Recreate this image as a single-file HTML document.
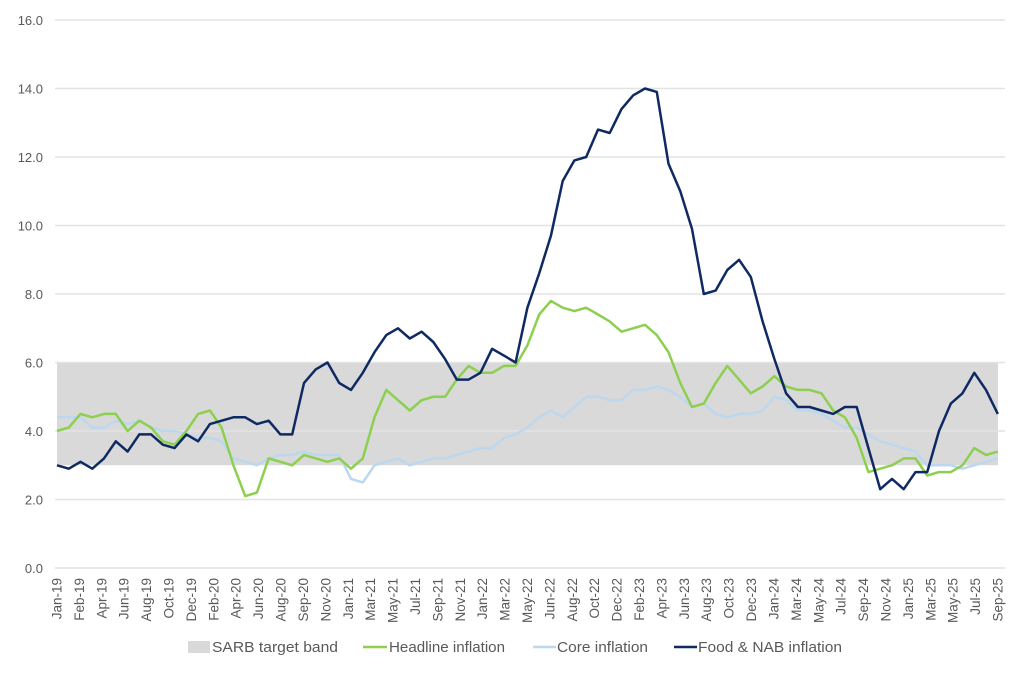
<!DOCTYPE html>
<html><head><meta charset="utf-8"><style>
html,body{margin:0;padding:0;background:#fff;}
svg text{font-family:"Liberation Sans",sans-serif;fill:#595959;}
</style></head><body>
<svg id="s" width="1024" height="675" xmlns="http://www.w3.org/2000/svg"></svg>
<script>
const s=document.getElementById('s');
const X0=57,STEP=11.76,Y0=568,PU=34.25;
const y=v=>Y0-v*PU, x=i=>X0+i*STEP;
let h='';
h+=`<rect x="57" y="${y(6)}" width="941" height="${3*PU}" fill="#d9d9d9"/>`;
for(let v=0;v<=16;v+=2){h+=`<line x1="55" x2="1005" y1="${y(v)}" y2="${y(v)}" stroke="#e3e3e3" stroke-width="1.5"/>`;
h+=`<text x="43" y="${y(v)+5}" font-size="13" text-anchor="end">${v.toFixed(1)}</text>`;}
const labs="Jan-19 Feb-19 Apr-19 Jun-19 Aug-19 Oct-19 Dec-19 Feb-20 Apr-20 Jun-20 Aug-20 Sep-20 Nov-20 Jan-21 Mar-21 May-21 Jul-21 Sep-21 Nov-21 Jan-22 Mar-22 May-22 Jun-22 Aug-22 Oct-22 Dec-22 Feb-23 Apr-23 Jun-23 Aug-23 Oct-23 Dec-23 Jan-24 Mar-24 May-24 Jul-24 Sep-24 Nov-24 Jan-25 Mar-25 May-25 Jul-25 Sep-25".split(' ');
labs.forEach((l,i)=>{const lx=57+i*(941/42)+4.5;h+=`<text transform="translate(${lx},578) rotate(-90)" font-size="13.5" text-anchor="end">${l}</text>`;});
const core=[4.4,4.4,4.4,4.1,4.1,4.3,4.2,4.3,4.1,4.0,4.0,3.9,3.8,3.8,3.7,3.2,3.1,3.0,3.2,3.3,3.3,3.4,3.3,3.3,3.3,2.6,2.5,3.0,3.1,3.2,3.0,3.1,3.2,3.2,3.3,3.4,3.5,3.5,3.8,3.9,4.1,4.4,4.6,4.4,4.7,5.0,5.0,4.9,4.9,5.2,5.2,5.3,5.2,5.0,4.7,4.8,4.5,4.4,4.5,4.5,4.6,5.0,4.9,4.6,4.6,4.5,4.3,4.1,4.1,3.9,3.7,3.6,3.5,3.4,3.0,3.0,3.0,2.9,3.0,3.1,3.2];
const head=[4.0,4.1,4.5,4.4,4.5,4.5,4.0,4.3,4.1,3.7,3.6,4.0,4.5,4.6,4.1,3.0,2.1,2.2,3.2,3.1,3.0,3.3,3.2,3.1,3.2,2.9,3.2,4.4,5.2,4.9,4.6,4.9,5.0,5.0,5.5,5.9,5.7,5.7,5.9,5.9,6.5,7.4,7.8,7.6,7.5,7.6,7.4,7.2,6.9,7.0,7.1,6.8,6.3,5.4,4.7,4.8,5.4,5.9,5.5,5.1,5.3,5.6,5.3,5.2,5.2,5.1,4.6,4.4,3.8,2.8,2.9,3.0,3.2,3.2,2.7,2.8,2.8,3.0,3.5,3.3,3.4];
const food=[3.0,2.9,3.1,2.9,3.2,3.7,3.4,3.9,3.9,3.6,3.5,3.9,3.7,4.2,4.3,4.4,4.4,4.2,4.3,3.9,3.9,5.4,5.8,6.0,5.4,5.2,5.7,6.3,6.8,7.0,6.7,6.9,6.6,6.1,5.5,5.5,5.7,6.4,6.2,6.0,7.6,8.6,9.7,11.3,11.9,12.0,12.8,12.7,13.4,13.8,14.0,13.9,11.8,11.0,9.9,8.0,8.1,8.7,9.0,8.5,7.2,6.1,5.1,4.7,4.7,4.6,4.5,4.7,4.7,3.5,2.3,2.6,2.3,2.8,2.8,4.0,4.8,5.1,5.7,5.2,4.5];
const pl=(d,c)=>`<polyline fill="none" stroke="${c}" stroke-width="2.5" stroke-linejoin="round" points="${d.map((v,i)=>x(i).toFixed(1)+','+y(v).toFixed(1)).join(' ')}"/>`;
h+=pl(core,'#bdd7ee')+pl(head,'#8dcf4f')+pl(food,'#0f2a63');
const fs=15;
const T=(x0,w,t)=>`<text x="${x0}" y="652" font-size="${fs}" textLength="${w}" lengthAdjust="spacingAndGlyphs">${t}</text>`;
h+=`<rect x="188" y="641" width="22" height="12" fill="#d9d9d9"/>`+T(212,126,'SARB target band');
h+=`<line x1="363" x2="387" y1="647" y2="647" stroke="#8dcf4f" stroke-width="2.5"/>`+T(389,116,'Headline inflation');
h+=`<line x1="533" x2="556" y1="647" y2="647" stroke="#bdd7ee" stroke-width="2.5"/>`+T(557,91,'Core inflation');
h+=`<line x1="674" x2="697" y1="647" y2="647" stroke="#0f2a63" stroke-width="2.5"/>`+T(698,144,'Food &amp; NAB inflation');
s.innerHTML=h;
</script>
</body></html>
